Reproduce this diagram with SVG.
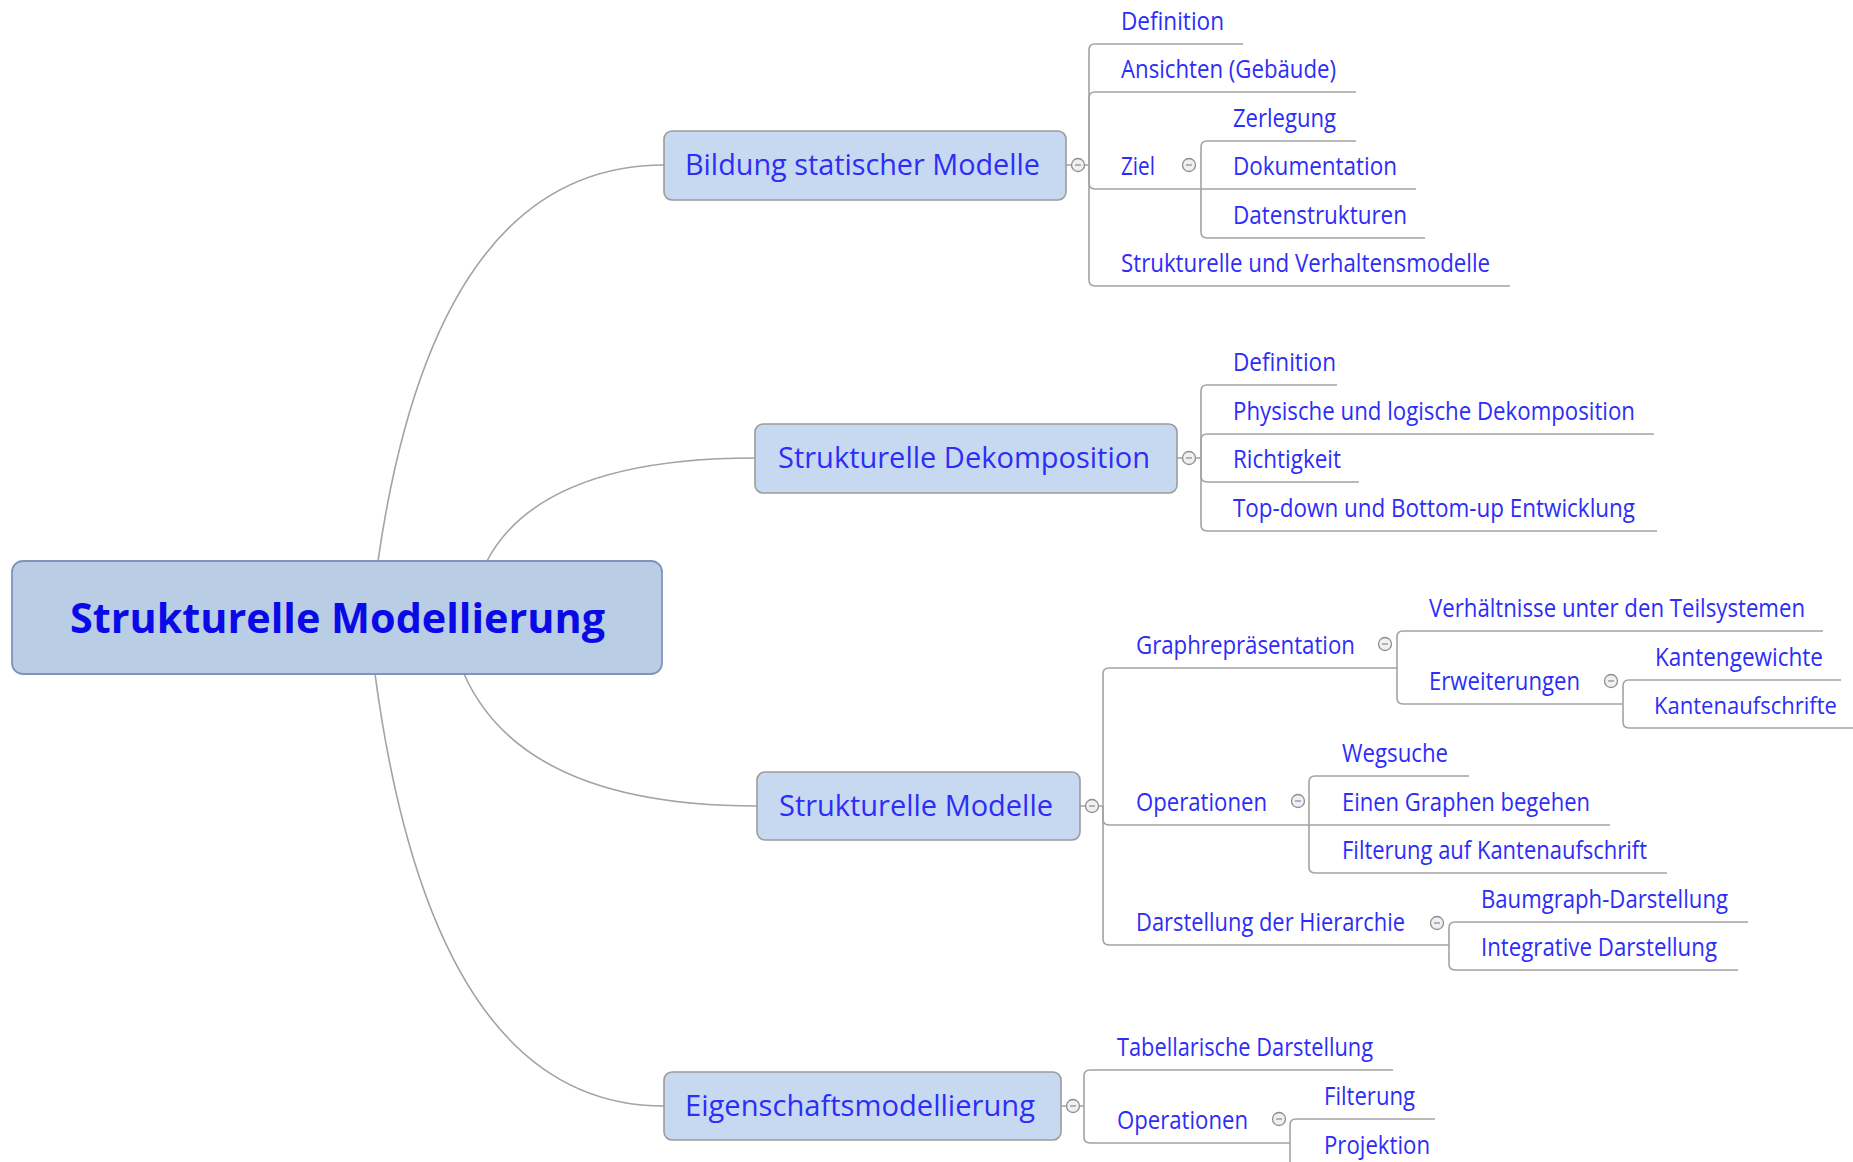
<svg xmlns="http://www.w3.org/2000/svg" width="1853" height="1162" viewBox="0 0 1853 1162">
<style>
.bg{fill:#ffffff}
.ln{fill:none;stroke:#a3a3a3;stroke-width:1.6}
.main{fill:#c6d9f1;stroke:#9c9c9c;stroke-width:1.6}
.central{fill:#b9cde5;stroke:#7f94b8;stroke-width:1.8}
.t{font-family:"Open Sans","Noto Sans","Liberation Sans",sans-serif;fill:#2d2df7}
.c{font-size:25px}
.m{font-size:29px}
.ct{font-size:42px;font-weight:bold;fill:#0a0ae8}
.tog{fill:#f0f0f0;stroke:#8e8e8e;stroke-width:1.3}
.minus{stroke:#8090c0;stroke-width:1.3}
</style>
<defs>
<g id="toggle"><circle class="tog" cx="0" cy="0" r="6.5"/><line class="minus" x1="-3" y1="0" x2="3" y2="0"/></g>
</defs>
<rect class="bg" x="0" y="0" width="1853" height="1162"/>
<g id="connectors">
<path class="ln" d="M378 561 Q435 165 664 165"/>
<path class="ln" d="M487 561 Q541 458 755 458"/>
<path class="ln" d="M464 674 Q523 806 757 806"/>
<path class="ln" d="M375 674 Q433 1106 664 1106"/>
<path class="ln" d="M1066 165 H1089 M1177 458 H1201 M1080 806 H1103 M1061 1106 H1084"/>
<path class="ln" d="M1089 165 V50 Q1089 44 1095 44 H1243"/>
<path class="ln" d="M1089 165 V98 Q1089 92 1095 92 H1356"/>
<path class="ln" d="M1089 165 V183 Q1089 189 1095 189 H1201"/>
<path class="ln" d="M1089 165 V280 Q1089 286 1095 286 H1510"/>
<path class="ln" d="M1201 189 V147 Q1201 141 1207 141 H1356"/>
<path class="ln" d="M1201 189 H1416"/>
<path class="ln" d="M1201 189 V232 Q1201 238 1207 238 H1425"/>
<path class="ln" d="M1201 458 V391 Q1201 385 1207 385 H1337"/>
<path class="ln" d="M1201 458 V440 Q1201 434 1207 434 H1654"/>
<path class="ln" d="M1201 458 V476 Q1201 482 1207 482 H1359"/>
<path class="ln" d="M1201 458 V525 Q1201 531 1207 531 H1657"/>
<path class="ln" d="M1103 806 V674 Q1103 668 1109 668 H1397"/>
<path class="ln" d="M1103 806 V819 Q1103 825 1109 825 H1309"/>
<path class="ln" d="M1103 806 V939 Q1103 945 1109 945 H1449"/>
<path class="ln" d="M1397 668 V637 Q1397 631 1403 631 H1823"/>
<path class="ln" d="M1397 668 V698 Q1397 704 1403 704 H1623"/>
<path class="ln" d="M1623 704 V686 Q1623 680 1629 680 H1841"/>
<path class="ln" d="M1623 704 V722 Q1623 728 1629 728 H1853"/>
<path class="ln" d="M1309 825 V782 Q1309 776 1315 776 H1469"/>
<path class="ln" d="M1309 825 H1610"/>
<path class="ln" d="M1309 825 V867 Q1309 873 1315 873 H1667"/>
<path class="ln" d="M1449 945 V928 Q1449 922 1455 922 H1748"/>
<path class="ln" d="M1449 945 V964 Q1449 970 1455 970 H1738"/>
<path class="ln" d="M1084 1106 V1076 Q1084 1070 1090 1070 H1393"/>
<path class="ln" d="M1084 1106 V1137 Q1084 1143 1090 1143 H1290"/>
<path class="ln" d="M1290 1143 V1125 Q1290 1119 1296 1119 H1435"/>
<path class="ln" d="M1290 1143 V1162 Q1290 1168 1296 1168 H1440"/>
</g>
<g id="central">
<rect class="central" x="12" y="561" width="650" height="113" rx="11"/>
<text class="t ct" x="70" y="633" textLength="535" lengthAdjust="spacingAndGlyphs">Strukturelle Modellierung</text>
</g>
<g id="n1">
<rect class="main" x="664" y="131" width="402" height="69" rx="8"/>
<text class="t m" x="685" y="175" textLength="355" lengthAdjust="spacingAndGlyphs">Bildung statischer Modelle</text>
<use href="#toggle" x="1078" y="165"/>
</g>
<g id="n1-definition"><text class="t c" x="1121" y="30" textLength="103" lengthAdjust="spacingAndGlyphs">Definition</text></g>
<g id="n1-ansichten"><text class="t c" x="1121" y="78" textLength="215" lengthAdjust="spacingAndGlyphs">Ansichten (Gebäude)</text></g>
<g id="n1-ziel"><text class="t c" x="1121" y="175" textLength="34" lengthAdjust="spacingAndGlyphs">Ziel</text><use href="#toggle" x="1189" y="165"/></g>
<g id="ziel-zerlegung"><text class="t c" x="1233" y="127" textLength="103" lengthAdjust="spacingAndGlyphs">Zerlegung</text></g>
<g id="ziel-dokumentation"><text class="t c" x="1233" y="175" textLength="164" lengthAdjust="spacingAndGlyphs">Dokumentation</text></g>
<g id="ziel-datenstrukturen"><text class="t c" x="1233" y="224" textLength="174" lengthAdjust="spacingAndGlyphs">Datenstrukturen</text></g>
<g id="n1-strukturelle"><text class="t c" x="1121" y="272" textLength="369" lengthAdjust="spacingAndGlyphs">Strukturelle und Verhaltensmodelle</text></g>
<g id="n2">
<rect class="main" x="755" y="424" width="422" height="69" rx="8"/>
<text class="t m" x="778" y="468" textLength="372" lengthAdjust="spacingAndGlyphs">Strukturelle Dekomposition</text>
<use href="#toggle" x="1189" y="458"/>
</g>
<g id="n2-definition"><text class="t c" x="1233" y="371" textLength="103" lengthAdjust="spacingAndGlyphs">Definition</text></g>
<g id="n2-physische"><text class="t c" x="1233" y="420" textLength="402" lengthAdjust="spacingAndGlyphs">Physische und logische Dekomposition</text></g>
<g id="n2-richtigkeit"><text class="t c" x="1233" y="468" textLength="108" lengthAdjust="spacingAndGlyphs">Richtigkeit</text></g>
<g id="n2-topdown"><text class="t c" x="1233" y="517" textLength="402" lengthAdjust="spacingAndGlyphs">Top-down und Bottom-up Entwicklung</text></g>
<g id="n3">
<rect class="main" x="757" y="772" width="323" height="68" rx="8"/>
<text class="t m" x="779" y="816" textLength="274" lengthAdjust="spacingAndGlyphs">Strukturelle Modelle</text>
<use href="#toggle" x="1092" y="806"/>
</g>
<g id="n3-graph"><text class="t c" x="1136" y="654" textLength="219" lengthAdjust="spacingAndGlyphs">Graphrepräsentation</text><use href="#toggle" x="1385" y="644"/></g>
<g id="graph-verhaeltnisse"><text class="t c" x="1429" y="617" textLength="376" lengthAdjust="spacingAndGlyphs">Verhältnisse unter den Teilsystemen</text></g>
<g id="graph-erweiterungen"><text class="t c" x="1429" y="690" textLength="151" lengthAdjust="spacingAndGlyphs">Erweiterungen</text><use href="#toggle" x="1611" y="681"/></g>
<g id="erw-kantengewichte"><text class="t c" x="1655" y="666" textLength="168" lengthAdjust="spacingAndGlyphs">Kantengewichte</text></g>
<g id="erw-kantenaufschrifte"><text class="t" x="1654" y="714" font-size="23" textLength="183" lengthAdjust="spacingAndGlyphs">Kantenaufschrifte</text></g>
<g id="n3-operationen"><text class="t c" x="1136" y="811" textLength="131" lengthAdjust="spacingAndGlyphs">Operationen</text><use href="#toggle" x="1298" y="801"/></g>
<g id="op-wegsuche"><text class="t c" x="1342" y="762" textLength="106" lengthAdjust="spacingAndGlyphs">Wegsuche</text></g>
<g id="op-begehen"><text class="t c" x="1342" y="811" textLength="248" lengthAdjust="spacingAndGlyphs">Einen Graphen begehen</text></g>
<g id="op-filterung"><text class="t c" x="1342" y="859" textLength="305" lengthAdjust="spacingAndGlyphs">Filterung auf Kantenaufschrift</text></g>
<g id="n3-hierarchie"><text class="t c" x="1136" y="931" textLength="269" lengthAdjust="spacingAndGlyphs">Darstellung der Hierarchie</text><use href="#toggle" x="1437" y="923"/></g>
<g id="hier-baumgraph"><text class="t c" x="1481" y="908" textLength="247" lengthAdjust="spacingAndGlyphs">Baumgraph-Darstellung</text></g>
<g id="hier-integrative"><text class="t c" x="1481" y="956" textLength="236" lengthAdjust="spacingAndGlyphs">Integrative Darstellung</text></g>
<g id="n4">
<rect class="main" x="664" y="1072" width="397" height="68" rx="8"/>
<text class="t m" x="685" y="1116" textLength="350" lengthAdjust="spacingAndGlyphs">Eigenschaftsmodellierung</text>
<use href="#toggle" x="1073" y="1106"/>
</g>
<g id="n4-tabellarisch"><text class="t c" x="1117" y="1056" textLength="256" lengthAdjust="spacingAndGlyphs">Tabellarische Darstellung</text></g>
<g id="n4-operationen"><text class="t c" x="1117" y="1129" textLength="131" lengthAdjust="spacingAndGlyphs">Operationen</text><use href="#toggle" x="1279" y="1119"/></g>
<g id="op4-filterung"><text class="t c" x="1324" y="1105" textLength="91" lengthAdjust="spacingAndGlyphs">Filterung</text></g>
<g id="op4-projektion"><text class="t c" x="1324" y="1154" textLength="106" lengthAdjust="spacingAndGlyphs">Projektion</text></g>
</svg>
